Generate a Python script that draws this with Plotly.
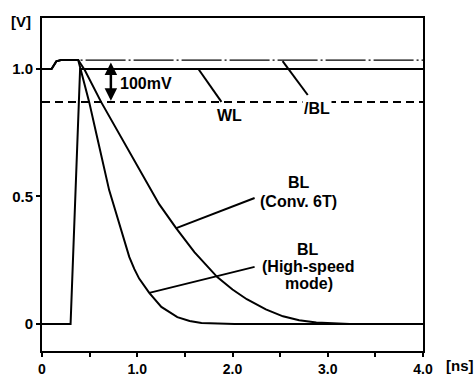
import plotly.graph_objects as go

# ---- data (time in ns, voltage in V) ----
t_wl = [0, 0.30, 0.40, 4.0]
v_wl = [0.0, 0.0, 1.0, 1.0]

t_nbl = [0, 0.10, 0.15, 0.20, 4.0]
v_nbl = [1.0, 1.0, 1.03, 1.035, 1.035]

t_conv = [0, 0.10, 0.15, 0.20, 0.38, 0.45, 0.62, 0.94, 1.13, 1.23, 1.41, 1.60, 1.84,
          2.00, 2.15, 2.35, 2.53, 2.70, 2.88, 3.23, 4.0]
v_conv = [1.0, 1.0, 1.03, 1.035, 1.035, 0.995, 0.871, 0.66, 0.53, 0.47, 0.375, 0.282, 0.184,
          0.135, 0.097, 0.057, 0.030, 0.015, 0.006, 0.0, 0.0]

t_hs = [0, 0.10, 0.15, 0.20, 0.38, 0.495, 0.58, 0.705, 0.758, 0.811, 0.916, 0.97, 1.02,
        1.126, 1.253, 1.421, 1.55, 1.674, 2.02, 4.0]
v_hs = [1.0, 1.0, 1.03, 1.035, 1.035, 0.871, 0.73, 0.525, 0.46, 0.396, 0.263, 0.215, 0.178,
        0.122, 0.067, 0.027, 0.012, 0.004, 0.0, 0.0]

v_ref = 0.871          # dashed sense level
x_ticks = [0, 0.5, 1.0, 1.5, 2.0, 2.5, 3.0, 3.5, 4.0]
x_ticktext = ["0", "", "1.0", "", "2.0", "", "3.0", "", "4.0"]
y_ticks = [0, 0.5, 1.0]
y_ticktext = ["0", "0.5", "1.0"]

FONT = "Liberation Sans"
TICKF = dict(family=FONT, size=15, color="black", weight="bold")
XTICKF = dict(family=FONT, size=14, color="black", weight="bold")
LABF = dict(family=FONT, size=16, color="black", weight="bold")

fig = go.Figure()
line = dict(color="black", width=2)
fig.add_trace(go.Scatter(x=[0, 4.0], y=[v_ref, v_ref], mode="lines",
                         line=dict(color="black", width=2, dash="8px,5px")))
fig.add_trace(go.Scatter(x=t_nbl, y=v_nbl, mode="lines",
                         line=dict(color="black", width=1.3, dash="40px,3px,2px,3px")))
fig.add_trace(go.Scatter(x=t_wl, y=v_wl, mode="lines", line=line))
fig.add_trace(go.Scatter(x=t_conv, y=v_conv, mode="lines", line=line))
fig.add_trace(go.Scatter(x=t_hs, y=v_hs, mode="lines", line=line))

# pointer lines
pointers = [
    (1.642, 1.0, 1.884, 0.871),    # WL
    (2.526, 1.031, 2.79, 0.898),   # /BL
    (1.41, 0.376, 2.232, 0.494),   # Conv 6T
    (1.126, 0.122, 2.232, 0.224),  # high speed
]
for x0, y0, x1, y1 in pointers:
    fig.add_shape(type="line", x0=x0, y0=y0, x1=x1, y1=y1, xref="x", yref="y",
                  line=dict(color="black", width=2))

ann = [
    dict(x=1.968, y=0.816, text="WL"),
    dict(x=2.884, y=0.845, text="/BL", bgcolor="white"),
    dict(x=2.695, y=0.553, text="BL"),
    dict(x=2.695, y=0.482, text="(Conv. 6T)"),
    dict(x=2.789, y=0.294, text="BL"),
    dict(x=2.789, y=0.2235, text="(High-speed"),
    dict(x=2.80, y=0.157, text="mode)"),
    dict(x=0.80, y=0.945, text="100mV", xanchor="left"),
]
for a in ann:
    fig.add_annotation(xref="x", yref="y", showarrow=False, font=LABF, **a)

# 100 mV double arrow
fig.add_annotation(x=0.723, y=v_ref + 0.004, ax=0.723, ay=1.031, xref="x", yref="y",
                   axref="x", ayref="y", text="", showarrow=True, arrowhead=2,
                   arrowside="end+start", arrowwidth=2.5, arrowsize=1, arrowcolor="black")

fig.add_annotation(xref="paper", yref="paper", x=-0.055, y=0.988, text="[V]",
                   xanchor="center", yanchor="middle", showarrow=False, font=TICKF)
fig.add_annotation(xref="paper", yref="paper", x=1.097, y=-0.045, text="[ns]",
                   xanchor="center", yanchor="middle", showarrow=False, font=TICKF)

fig.update_layout(
    width=475, height=377,
    margin=dict(l=42, r=52, t=18, b=26, autoexpand=False),
    paper_bgcolor="white", plot_bgcolor="white",
    showlegend=False,
    font=TICKF,
    xaxis=dict(range=[0, 4.0], tickvals=x_ticks, ticktext=x_ticktext, automargin=False,
               showgrid=False, zeroline=False, showline=True, mirror=True,
               linecolor="black", linewidth=2, ticks="outside", ticklen=4,
               tickwidth=2, tickcolor="black", tickfont=XTICKF),
    yaxis=dict(range=[-0.106, 1.2], tickvals=y_ticks, ticktext=y_ticktext, automargin=False,
               showgrid=False, zeroline=False, showline=True, mirror=True,
               linecolor="black", linewidth=2, ticks="outside", ticklen=4,
               tickwidth=1.5, tickcolor="black", tickfont=TICKF),
)

fig.write_html("out.html")
